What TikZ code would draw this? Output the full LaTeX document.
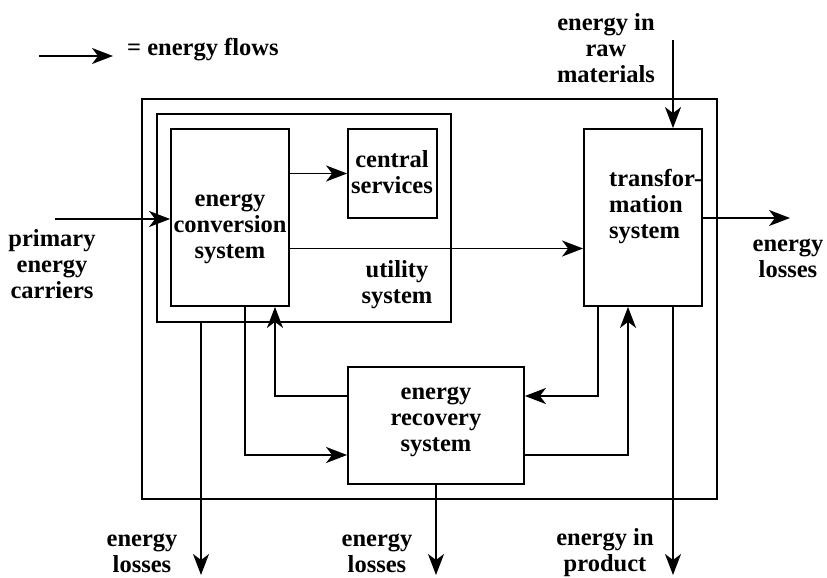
\documentclass[tikz,border=0pt]{standalone}
\usepackage{fontspec}
\setmainfont{Liberation Serif}
\usetikzlibrary{arrows.meta}
\begin{document}
\begin{tikzpicture}[x=1pt,y=-1pt,
  box/.style={draw,line width=1.8pt,inner sep=0pt},
  bigbox/.style={draw,line width=2.6pt,inner sep=0pt},
  lbl/.style={font=\fontsize{24.5}{26}\selectfont\bfseries,align=center,inner sep=0pt},
  flow/.style={line width=1.8pt,-{Stealth[length=21pt,width=16pt,inset=6pt]}}]
\useasboundingbox (0,0) rectangle (827,578);
% boxes
\node[bigbox,minimum width=575pt,minimum height=400pt] (outer) at (429.5,299) {};
\node[bigbox,minimum width=294pt,minimum height=208pt] (util) at (304,218) {};
\node[box,minimum width=118pt,minimum height=177pt] (ec) at (230,217.5) {};
\node[box,minimum width=89pt,minimum height=89pt] (cs) at (392.5,173.5) {};
\node[box,minimum width=118pt,minimum height=177pt] (tr) at (643,217.5) {};
\node[box,minimum width=176pt,minimum height=117pt] (rc) at (436,425.5) {};
% labels
\node[lbl] (ectext) at (230,229) {energy\\conversion\\system};
\node[lbl] (cstext) at (392,172) {central\\services};
\node[lbl] (uttext) at (397,285) {utility\\system};
\node[lbl,align=left,anchor=west] (trtext) at (609,207) {transfor-\\mation\\system};
\node[lbl] (rctext) at (436,422) {energy\\recovery\\system};
\node[lbl] (prim) at (52,264) {primary\\energy\\carriers};
\node[lbl] (raw) at (606,48) {energy in\\raw\\materials};
\node[lbl] (lossR) at (788,258) {energy\\losses};
\node[lbl] (loss1) at (142,553) {energy\\losses};
\node[lbl] (loss2) at (377,553) {energy\\losses};
\node[lbl] (prod) at (605,553) {energy in\\product};
\node[lbl,anchor=west] (legtext) at (127,50) {= energy flows};
% free ends
\coordinate (l1) at (39,56);
\coordinate (l2) at (113,56);
\coordinate (pin) at (55,219);
\coordinate (rawin) at (673,40);
\coordinate (rout) at (790,218);
\coordinate (b1) at (201,575);
\coordinate (b2) at (436,575);
\coordinate (b3) at (673,575);
% flows
\draw[flow] (l1) -- (l2);
\draw[flow] (pin) -- (pin -| ec.west);
\draw[flow] (ec.east |- cs.west) -- (cs.west);
\draw[flow] ([yshift=-31pt]ec.east) -- ([yshift=-31pt]ec.east -| tr.west);
\draw[flow] (rawin) -- (rawin |- tr.north);
\draw[flow] (tr.east |- rout) -- (rout);
\draw[flow] (b1 |- util.south) -- (b1);
\draw[flow] ([xshift=15pt]ec.south) |- ([yshift=-29.5pt]rc.west);
\draw[flow] ([yshift=29.5pt]rc.west) -| ([xshift=45pt]ec.south);
\draw[flow] ([xshift=-45pt]tr.south) |- ([yshift=29.5pt]rc.east);
\draw[flow] ([yshift=-29.5pt]rc.east) -| ([xshift=-15pt]tr.south);
\draw[flow] (rc.south) -- (b2);
\draw[flow] ([xshift=30pt]tr.south) -- (b3);
\end{tikzpicture}
\end{document}
